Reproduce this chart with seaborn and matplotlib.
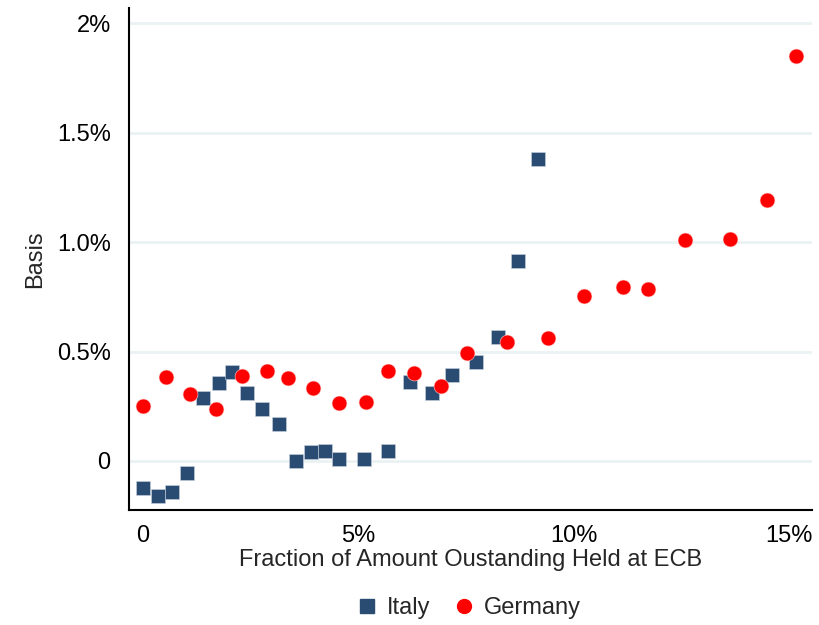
import matplotlib
matplotlib.use("Agg")
import matplotlib.pyplot as plt
import seaborn as sns
import pandas as pd
from matplotlib.lines import Line2D

# Data (percent)
italy_x = [0.01, 0.35, 0.67, 1.03, 1.39, 1.76, 2.07, 2.42, 2.77, 3.16, 3.55, 3.90,
           4.23, 4.56, 5.13, 5.68, 6.21, 6.71, 7.18, 7.73, 8.23, 8.71, 9.18]
italy_y = [-0.125, -0.158, -0.143, -0.053, 0.288, 0.355, 0.405, 0.309, 0.239, 0.170,
           0.001, 0.043, 0.046, 0.008, 0.011, 0.044, 0.361, 0.312, 0.393, 0.453,
           0.565, 0.912, 1.379]
germany_x = [0.01, 0.54, 1.10, 1.69, 2.30, 2.88, 3.37, 3.96, 4.56, 5.19, 5.70, 6.29,
             6.91, 7.52, 8.44, 9.40, 10.23, 11.13, 11.73, 12.58, 13.63, 14.49, 15.16]
germany_y = [0.253, 0.384, 0.305, 0.237, 0.387, 0.411, 0.379, 0.333, 0.263, 0.268,
             0.411, 0.400, 0.341, 0.492, 0.545, 0.560, 0.753, 0.795, 0.787, 1.011,
             1.014, 1.193, 1.851]
x_ticks = [0, 5, 10, 15]
x_ticklabels = ["0", "5%", "10%", "15%"]
y_ticks = [0, 0.5, 1.0, 1.5, 2.0]
y_ticklabels = ["0", "0.5%", "1.0%", "1.5%", "2%"]

df = pd.concat([
    pd.DataFrame({"x": italy_x, "y": italy_y, "country": "Italy"}),
    pd.DataFrame({"x": germany_x, "y": germany_y, "country": "Germany"}),
])

sns.set_style("white")
plt.rcParams["font.family"] = ["Liberation Sans", "DejaVu Sans"]

navy = "#2A4C73"
red = "#FF0000"
fs = 17

fig = plt.figure(figsize=(8.2, 6.25), dpi=100)
ax = fig.add_axes([0.157, 0.184, 0.833, 0.803])

for y in y_ticks:
    ax.axhline(y, color="#EAF2F3", lw=2.0, zorder=0)

sns.scatterplot(data=df[df.country == "Italy"], x="x", y="y", marker="s", s=100,
                color=navy, edgecolor="#C9D3DE", linewidth=0.4, ax=ax, zorder=3, legend=False)
sns.scatterplot(data=df[df.country == "Germany"], x="x", y="y", marker="o", s=115,
                color=red, edgecolor="#FFD0D0", linewidth=0.4, ax=ax, zorder=3, legend=False)

ax.set_xlim(-0.325, 15.52)
ax.set_ylim(-0.224, 2.07)
ax.set_xticks(x_ticks)
ax.set_xticklabels(x_ticklabels)
ax.set_yticks(y_ticks)
ax.set_yticklabels(y_ticklabels)
ax.tick_params(axis="both", direction="out", length=7, width=1.5, color="black",
               labelsize=fs, labelcolor="black", pad=4)
ax.tick_params(axis="y", pad=6)
for s in ["top", "right"]:
    ax.spines[s].set_visible(False)
for s in ["left", "bottom"]:
    ax.spines[s].set_color("black")
    ax.spines[s].set_linewidth(1.5)

ax.set_xlabel("Fraction of Amount Oustanding Held at ECB", fontsize=fs, labelpad=1)
ax.set_ylabel("Basis", fontsize=fs, labelpad=8)

handles = [
    Line2D([], [], marker="s", linestyle="none", color=navy, markersize=10),
    Line2D([], [], marker="o", linestyle="none", color=red, markersize=10),
]
fig.legend(handles, ["Italy", "Germany"], loc="center", bbox_to_anchor=(0.571, 0.027),
           ncol=2, frameon=False, fontsize=fs, handletextpad=0.35, columnspacing=0.9,
           handlelength=1.0)

fig.savefig("out.png", dpi=100)
